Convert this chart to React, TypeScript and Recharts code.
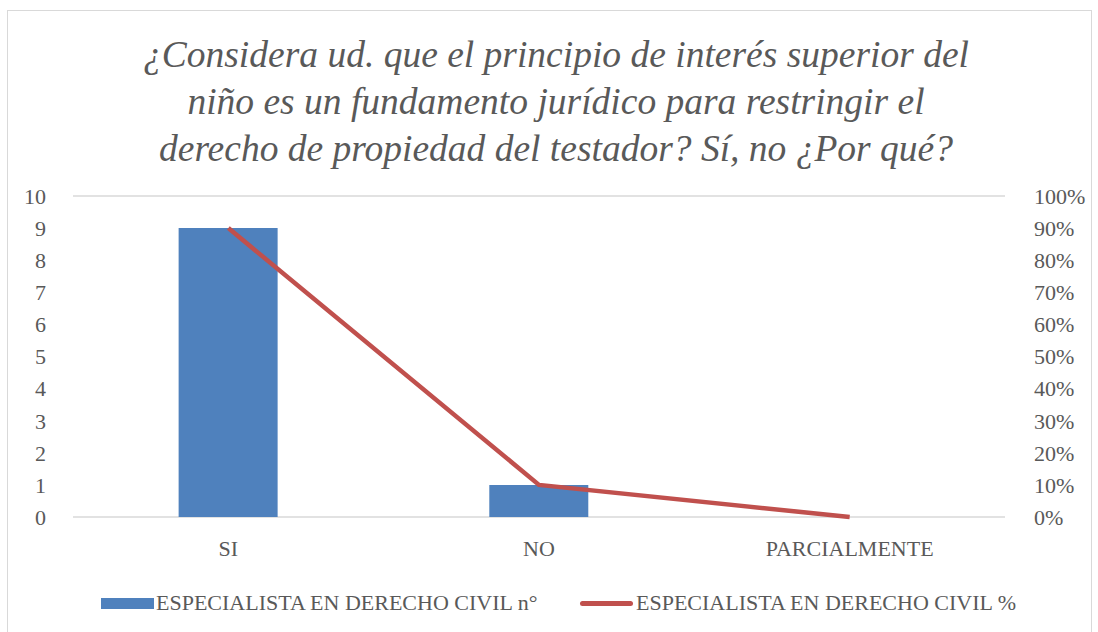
import {
  ComposedChart,
  Bar,
  Line,
  XAxis,
  YAxis,
  CartesianGrid,
} from 'recharts';

const CATEGORIES = ['SI', 'NO', 'PARCIALMENTE'];
const COUNTS = [9, 1, 0];
const PERCENTS = [0.9, 0.1, 0];
const COUNT_TICKS = [0, 1, 2, 3, 4, 5, 6, 7, 8, 9, 10];
const PCT_TICKS = [0, 0.1, 0.2, 0.3, 0.4, 0.5, 0.6, 0.7, 0.8, 0.9, 1];

const TITLE_LINES = [
  '¿Considera ud. que el principio de interés superior del',
  'niño es un fundamento jurídico para restringir el',
  'derecho de propiedad del testador? Sí, no ¿Por qué?',
];
const BAR_NAME = 'ESPECIALISTA EN DERECHO CIVIL n°';
const LINE_NAME = 'ESPECIALISTA EN DERECHO CIVIL %';

const FONT = '"Liberation Serif", "DejaVu Serif", serif';
const TEXT = '#595959';
const BLUE = '#4F81BD';
const RED = '#C0504D';

const data = CATEGORIES.map((c, i) => ({
  name: c,
  count: COUNTS[i],
  pct: PERCENTS[i],
}));

export default function App() {
  const tick = { fill: TEXT, fontSize: 22, fontFamily: FONT };
  const legendItem = {
    position: 'absolute' as const,
    top: 590,
    display: 'flex',
    alignItems: 'center',
    color: TEXT,
    fontSize: 22,
    whiteSpace: 'nowrap' as const,
  };
  return (
    <div
      style={{
        position: 'absolute',
        left: 0,
        top: 0,
        width: 1098,
        height: 632,
        background: '#fff',
        overflow: 'hidden',
        fontFamily: FONT,
      }}
    >
      <div
        style={{
          position: 'absolute',
          left: 7,
          top: 10,
          width: 1083,
          height: 640,
          border: '1px solid #d9d9d9',
        }}
      />
      <div
        style={{
          position: 'absolute',
          left: 0,
          top: 31,
          width: 1112,
          textAlign: 'center',
          color: TEXT,
          fontStyle: 'italic',
          fontSize: 37.5,
          lineHeight: '47px',
        }}
      >
        {TITLE_LINES.map((l) => (
          <div key={l}>{l}</div>
        ))}
      </div>
      <ComposedChart
        width={1098}
        height={632}
        data={data}
        margin={{ top: 196, right: 0, bottom: 75, left: 0 }}
        barCategoryGap="34%"
        style={{ position: 'absolute', left: 0, top: 0 }}
      >
        <CartesianGrid vertical={false} stroke="#d9d9d9" strokeWidth={1.5} />
        <XAxis
          dataKey="name"
          axisLine={false}
          tickLine={false}
          tick={tick}
          tickMargin={17}
          height={40}
        />
        <YAxis
          yAxisId="left"
          domain={[0, 10]}
          ticks={COUNT_TICKS}
          axisLine={false}
          tickLine={false}
          tick={tick}
          tickMargin={21}
          width={73}
          interval={0}
        />
        <YAxis
          yAxisId="right"
          orientation="right"
          domain={[0, 1]}
          ticks={PCT_TICKS}
          tickFormatter={(v: number) => `${Math.round(v * 100)}%`}
          axisLine={false}
          tickLine={false}
          tick={tick}
          tickMargin={23}
          width={93}
          interval={0}
        />
        <Bar
          yAxisId="left"
          dataKey="count"
          name={BAR_NAME}
          fill={BLUE}
          isAnimationActive={false}
        />
        <Line
          yAxisId="right"
          dataKey="pct"
          name={LINE_NAME}
          stroke={RED}
          strokeWidth={4.5}
          dot={false}
          type="linear"
          isAnimationActive={false}
        />
      </ComposedChart>
      <div style={{ ...legendItem, left: 101 }}>
        <span
          style={{ width: 53, height: 11, background: BLUE, display: 'inline-block' }}
        />
        <span style={{ marginLeft: 2 }}>{BAR_NAME}</span>
      </div>
      <div style={{ ...legendItem, left: 580 }}>
        <span
          style={{
            width: 53,
            height: 5,
            borderRadius: 3,
            background: RED,
            display: 'inline-block',
          }}
        />
        <span style={{ marginLeft: 3 }}>{LINE_NAME}</span>
      </div>
    </div>
  );
}
